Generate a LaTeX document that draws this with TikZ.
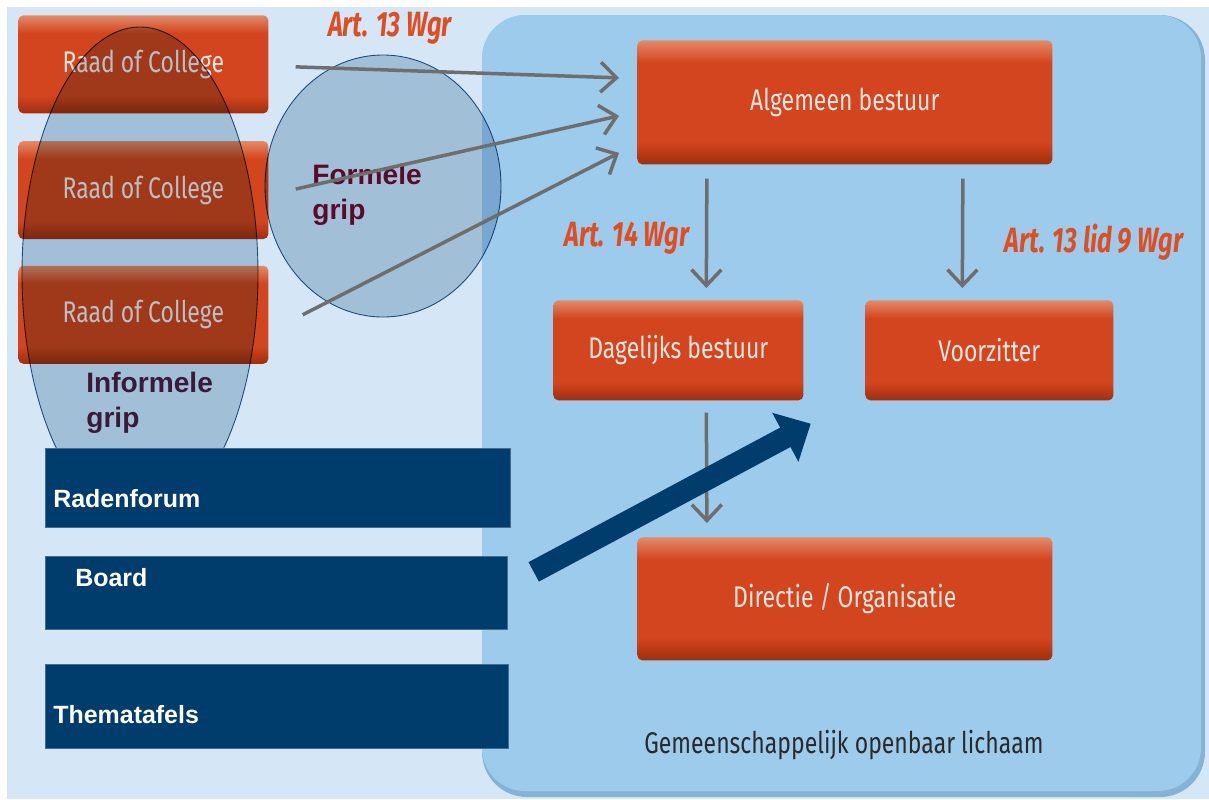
\documentclass[tikz,border=0pt]{standalone}
\usepackage{fontspec}
\setmainfont{Liberation Sans}
\newfontfamily\condfont[FakeStretch=0.77]{Fira Sans}
\newfontfamily\artfamily[FakeStretch=0.72]{Fira Sans}
\usetikzlibrary{positioning,shapes.geometric,calc,arrows.meta}
\newlength\pxu
\setlength\pxu{0.02cm}

\begin{document}
\begin{tikzpicture}[x=0.02cm,y=-0.02cm]
      \definecolor{pagebg}{HTML}{D5E7F6}
      \definecolor{panelblue}{HTML}{9DCBEC}
      \definecolor{panelshade}{HTML}{86B2D6}
      \definecolor{orangemid}{HTML}{D2451E}
      \definecolor{orangetop}{HTML}{E48A68}
      \definecolor{orangebot}{HTML}{A02E0E}
      \definecolor{lettering}{HTML}{F6E6DE}
      \definecolor{artred}{HTML}{DD4E22}
      \definecolor{arrowgray}{HTML}{6E6E6E}
      \definecolor{navy}{HTML}{003C6C}
      \definecolor{gripfill}{HTML}{C3D3E0}
      \definecolor{gripline}{HTML}{2C5C88}
      \definecolor{formeletext}{HTML}{5A0A2A}
      \definecolor{informeletext}{HTML}{3A1A3A}
      \definecolor{bodytext}{HTML}{2A2A2A}

      \pgfdeclareverticalshading{orangeshade}{100bp}{color(0bp)=(orangebot); color(25bp)=(orangebot); color(34bp)=(orangemid); color(66bp)=(orangemid); color(75bp)=(orangetop); color(100bp)=(orangetop)}

      \newcommand{\boxfont}[0]{\condfont\fontsize{17}{20}\selectfont}
      \newcommand{\artfont}[0]{\artfamily\bfseries\itshape\fontsize{20}{22}\selectfont}

      \tikzstyle{orangebox} = [rectangle, rounded corners=5\pxu, shading=orangeshade, text=lettering, font=\boxfont, inner sep=0pt]
      \tikzstyle{navbox}    = [rectangle, fill=navy, draw=navy!75!white, line width=0.4pt, anchor=north west, inner sep=0pt]
      \tikzstyle{navtext}   = [text=white, font=\bfseries\fontsize{14.2}{16}\selectfont, anchor=west, inner sep=0pt]
      \tikzstyle{grip}      = [ellipse, fill=gripfill, draw=gripline, line width=0.5pt, blend mode=multiply, inner sep=0pt]
      \tikzstyle{griptext}  = [font=\bfseries\fontsize{16}{20}\selectfont, align=left, anchor=north west, inner sep=0pt]
      \tikzstyle{connector} = [draw=arrowgray, line width=3.5\pxu, -{Straight Barb[length=9pt,width=17pt]}]
      \tikzstyle{artlabel}  = [text=artred, font=\artfont, inner sep=0pt]

      \useasboundingbox (0,0) rectangle (1209,799);
      \fill[pagebg] (7,7) rectangle (1209,799);

      % gemeenschappelijk openbaar lichaam
      \fill[panelshade, rounded corners=45\pxu] (482,15) rectangle (1205,797);
      \fill[panelblue,  rounded corners=43\pxu] (482,15) rectangle (1201,791);
      \node[font=\boxfont, text=bodytext] (gol) at (844,745) {Gemeenschappelijk openbaar lichaam};

      % deelnemers
      \node[orangebox, anchor=north west, minimum width=250\pxu, minimum height=98\pxu] (raad1) at (18,15) {Raad of College};
      \node[orangebox, minimum width=250\pxu, minimum height=98\pxu, below=27\pxu of raad1] (raad2) {Raad of College};
      \node[orangebox, minimum width=250\pxu, minimum height=98\pxu, below=26\pxu of raad2] (raad3) {Raad of College};

      \node[grip, minimum width=236\pxu, minimum height=494\pxu] (informeel) at (140,274) {};
      \node[grip, minimum width=236\pxu, minimum height=262\pxu] (formeel)   at (383,186) {};
      \node[griptext, text=formeletext]   (formeeltext)   at (312,164) {Formele\\grip};
      \node[griptext, text=informeletext] (informeeltext) at (86,372)  {Informele\\grip};

      % GR-organen
      \node[orangebox, anchor=north west, minimum width=415\pxu, minimum height=124\pxu] (algemeen) at (637,40) {Algemeen bestuur};
      \node[orangebox, anchor=north west, minimum width=250\pxu, minimum height=100\pxu] (dagelijks) at (553,300) {Dagelijks bestuur};
      \node[orangebox, anchor=north west, minimum width=248\pxu, minimum height=100\pxu] (voorzitter) at (865,300) {Voorzitter};
      \node[orangebox, anchor=north west, minimum width=415\pxu, minimum height=123\pxu] (directie) at (637,537) {Directie / Organisatie};

      \draw [connector] ($(raad1.east)+(27,2.5)$) -- ($(algemeen.west)+(-18,-24.5)$);
      \draw [connector] ($(raad2.east)+(27,-1)$)  -- ($(algemeen.west)+(-18,13.5)$);
      \draw [connector] ($(raad3.east)+(34,0)$)   -- ($(algemeen.west)+(-18,50.5)$);
      \draw [connector] ($(algemeen.south)+(-138,14)$) -- ($(dagelijks.north)+(28,-12)$);
      \draw [connector] ($(algemeen.south)+(118,14)$)  -- ($(voorzitter.north)+(-27,-12)$);
      \draw [connector] ($(dagelijks.south)+(28,12)$)  -- ($(directie.north)+(-138,-14)$);

      \node[artlabel] (art13)    at (390,28)  {Art. 13 Wgr};
      \node[artlabel] (art14)    at (627,238) {Art. 14 Wgr};
      \node[artlabel] (art13lid) at (1094,242) {Art. 13 lid 9 Wgr};

      % raden
      \node[navbox, minimum width=465\pxu, minimum height=79\pxu] (radenforum)  at (45,448) {};
      \node[navbox, minimum width=462\pxu, minimum height=73\pxu] (board)       at (45,556) {};
      \node[navbox, minimum width=463\pxu, minimum height=84\pxu] (thematafels) at (45,664) {};
      \node[navtext] (radenforumtext)  at ($(radenforum.west)+(8,10.5)$)  {Radenforum};
      \node[navtext] (boardtext)       at ($(board.west)+(30,-15.5)$)     {Board};
      \node[navtext] (thematafelstext) at ($(thematafels.west)+(8,8)$)    {Thematafels};

      \draw[navy, line width=22\pxu, -{Triangle[length=16.4pt,width=30.6pt]}] ($(board.east)+(26,-21)$) -- ($(dagelijks.south east)+(7,23)$);
\end{tikzpicture}
\end{document}
